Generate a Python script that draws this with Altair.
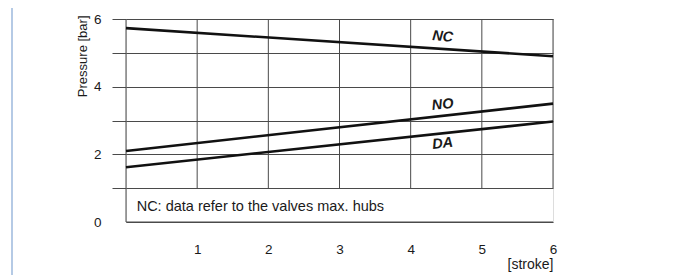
import altair as alt
import pandas as pd

# --- data ---
series_names = ["NC", "NC", "NO", "NO", "DA", "DA"]
series_x = [0, 6, 0, 6, 0, 6]
series_y = [5.73, 4.90, 2.10, 3.50, 1.62, 2.97]

label_text = ["NC", "NO", "DA"]
label_x = [4.45, 4.45, 4.45]
label_y = [5.47, 3.46, 2.31]
label_angle = [5, 354, 354]

vline_x = [0, 1, 2, 3, 4, 5, 6]
vline_top = [6, 6, 6, 6, 6, 6, 6]
vline_bottom = [0, 1, 1, 1, 1, 1, 1]

hline_y = [0]
hline_x0 = [0]
hline_x1 = [6]

note_text = ["NC: data refer to the valves max. hubs"]
note_x = [0.15]
note_y = [0.44]

x_ticks = [1, 2, 3, 4, 5, 6]
y_ticks = [0, 1, 2, 3, 4, 5, 6]

FONT = "Liberation Sans"
INK = "#1a1a1a"
GRID = "#4a4a4a"

lines_df = pd.DataFrame({"s": series_names, "x": series_x, "y": series_y})
labels_df = pd.DataFrame({"t": label_text, "x": label_x, "y": label_y, "a": label_angle})
vlines_df = pd.DataFrame({"x": vline_x, "y": vline_top, "y2": vline_bottom})
hlines_df = pd.DataFrame({"y": hline_y, "x": hline_x0, "x2": hline_x1})
note_df = pd.DataFrame({"t": note_text, "x": note_x, "y": note_y})

xscale = alt.Scale(domain=[0, 6], nice=False, zero=False)
yscale = alt.Scale(domain=[0, 6], nice=False, zero=False)

xaxis = alt.Axis(
    values=x_ticks, ticks=False, domain=False, grid=False,
    labelPadding=20, labelFontSize=13.5, labelColor=INK, labelFont=FONT,
    labelFlush=False, labelAngle=0,
    title="[stroke]", titleAnchor="end", titleAlign="right", titleX=427, titleY=42,
    titleBaseline="middle", titleFontWeight="normal", titleFontSize=14,
    titleColor=INK, titleFont=FONT,
)
yaxis = alt.Axis(
    values=y_ticks, domain=False, grid=True, gridColor=GRID, gridWidth=1,
    tickSize=14, tickWidth=1,
    tickColor={"condition": {"test": "datum.value == 0", "value": "transparent"}, "value": GRID},
    labelExpr="datum.value % 2 == 0 ? datum.label : ''",
    labelAngle=0, labelAlign="right", labelBaseline="middle",
    labelPadding=11, labelFontSize=13.5, labelColor=INK, labelFont=FONT,
    title="Pressure [bar]", titleAngle=270, titleAlign="right", titleBaseline="bottom",
    titleX=-37, titleY=-4, titleFontWeight="normal", titleFontSize=13,
    titleColor=INK, titleFont=FONT,
)


def X(field="x"):
    return alt.X(f"{field}:Q", scale=xscale, axis=xaxis)


def Y(field="y"):
    return alt.Y(f"{field}:Q", scale=yscale, axis=yaxis)


vlines = alt.Chart(vlines_df).mark_rule(color=GRID, strokeWidth=1).encode(
    x=X(), y=Y(), y2="y2:Q"
)
hlines = alt.Chart(hlines_df).mark_rule(color=GRID, strokeWidth=1).encode(
    y=Y(), x=X(), x2="x2:Q"
)
curves = alt.Chart(lines_df).mark_line(color="#111111", strokeWidth=2.6).encode(
    x=X(), y=Y(), detail="s:N"
)
labels = alt.Chart(labels_df).mark_text(
    font=FONT, fontSize=14.5, fontWeight="bold", fontStyle="italic", color=INK,
    align="center", baseline="middle",
).encode(x=X(), y=Y(), text="t:N", angle=alt.Angle("a:Q", scale=None))
note = alt.Chart(note_df).mark_text(
    font=FONT, fontSize=14.5, color=INK, align="left", baseline="middle"
).encode(x=X(), y=Y(), text="t:N")

border_v = alt.Chart(note_df).mark_rule(color="#9db9dd", strokeWidth=1.5).encode(
    x=alt.value(-114), y=alt.value(-15), y2=alt.value(320)
)
border_h = alt.Chart(note_df).mark_rule(color="#9db9dd", strokeWidth=1.5).encode(
    y=alt.value(-15), x=alt.value(-114), x2=alt.value(700)
)

chart = alt.layer(vlines, hlines, curves, labels, note, border_v, border_h).properties(
    width=427, height=203,
    autosize=alt.AutoSizeParams(type="none"),
    padding={"left": 118, "top": 11, "right": 118, "bottom": 53},
).configure_view(stroke=None).configure(background="white")

chart.save("out.html", embed_options={"renderer": "svg", "actions": False})
